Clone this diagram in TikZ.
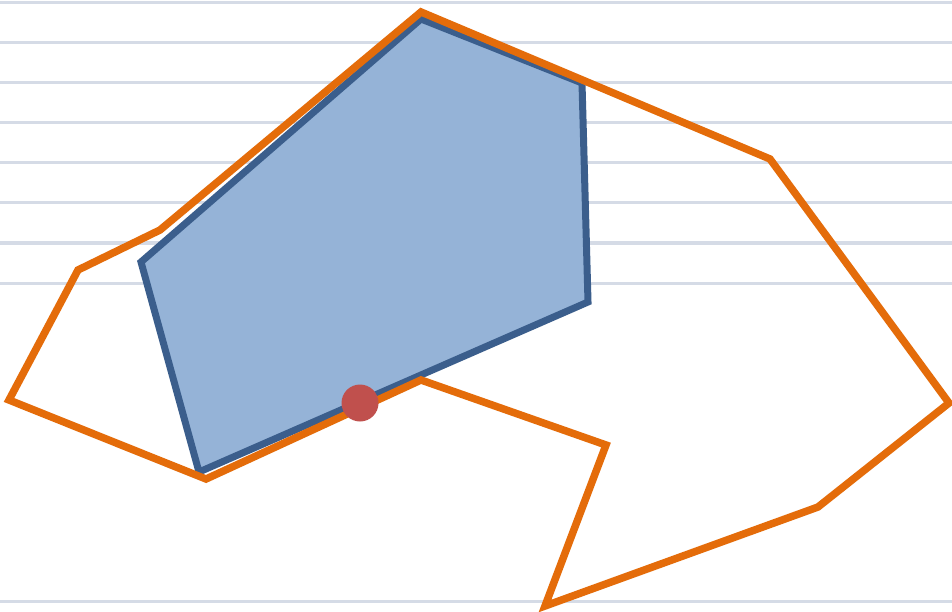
\documentclass[tikz,border=0pt]{standalone}
\definecolor{gridc}{HTML}{D5DBE6}
\definecolor{orng}{HTML}{E46C0A}
\definecolor{bfill}{HTML}{95B3D7}
\definecolor{bline}{HTML}{3B5E8C}
\definecolor{reddot}{HTML}{C0504D}
\begin{document}
\begin{tikzpicture}[x=1pt,y=-1pt,
  gridline/.style={gridc,line width=3pt},
  outerpoly/.style={orng,line width=7.5pt,line join=miter},
  innerpoly/.style={bline,fill=bfill,line width=7pt,line join=miter},
  dotstyle/.style={circle,fill=reddot,inner sep=0pt,minimum size=37pt}]
\useasboundingbox (0,0) rectangle (952,612);
\fill[white] (0,0) rectangle (952,612);
\foreach \y in {3,43,83,123,163,203,243,283,601}
  \draw[gridline] (0,\y) -- (952,\y);
% inner blue polygon
\coordinate (b1) at (421,19);
\coordinate (b2) at (582,83);
\coordinate (b3) at (588,302);
\coordinate (b4) at (199,472);
\coordinate (b5) at (141,262);
\draw[innerpoly] (b1) -- (b2) -- (b3) -- (b4) -- (b5) -- cycle;
% outer orange polygon
\coordinate (o1) at (421,12);
\coordinate (o2) at (770,159);
\coordinate (o3) at (949,403);
\coordinate (o4) at (818,507);
\coordinate (o5) at (545,606);
\coordinate (o6) at (606,445);
\coordinate (o7) at (421,380);
\coordinate (o8) at (206,479);
\coordinate (o9) at (9,400);
\coordinate (o10) at (78,270);
\coordinate (o11) at (160,230);
\draw[outerpoly] (o1) -- (o2) -- (o3) -- (o4) -- (o5) -- (o6) -- (o7) -- (o8) -- (o9) -- (o10) -- (o11) -- cycle;
\node[dotstyle] (dot) at (360,403) {};
\end{tikzpicture}
\end{document}
